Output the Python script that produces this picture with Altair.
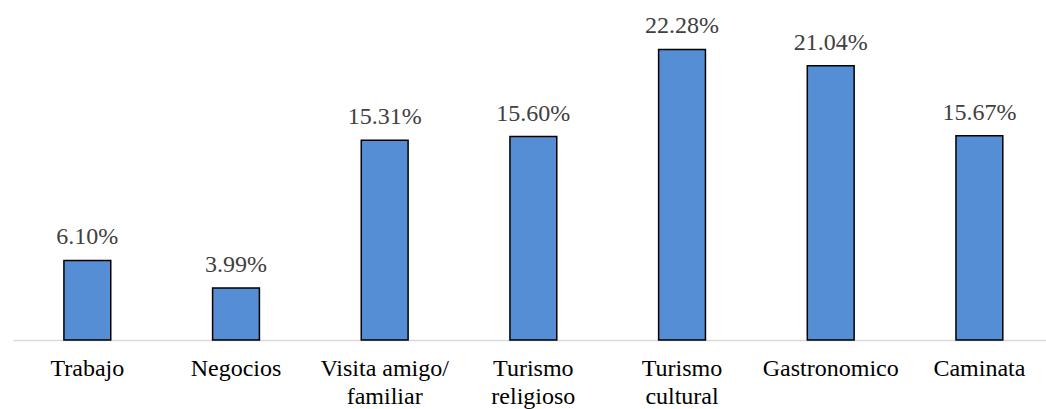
import altair as alt
import pandas as pd

categories = ["Trabajo", "Negocios", "Visita amigo/\nfamiliar", "Turismo\nreligioso",
              "Turismo\ncultural", "Gastronomico", "Caminata"]
values = [6.10, 3.99, 15.31, 15.60, 22.28, 21.04, 15.67]

df = pd.DataFrame({"cat": categories, "val": values})

FONT = "Times New Roman, Liberation Serif, DejaVu Serif, serif"
W = 1033
x = alt.X("cat:N", sort=categories, title=None,
          scale=alt.Scale(paddingInner=0.685, paddingOuter=0.3165, align=0.541),
          axis=alt.Axis(labelExpr="split(datum.label, '\\n')", labelAngle=0,
                        labelFont=FONT, labelFontSize=24, labelColor="#000000",
                        labelPadding=16, labelLineHeight=28, ticks=False,
                        domainColor="#d9d9d9", domainWidth=1.5, labelBaseline="top"))
y = alt.Y("val:Q", scale=alt.Scale(domain=[0, 25], nice=False), axis=None)

bars = alt.Chart(df).mark_bar(color="#558ED5", stroke="#000000", strokeWidth=1.5).encode(x=x, y=y)
text = alt.Chart(df).transform_calculate(
    lbl="format(datum.val, '.2f') + '%'"
).mark_text(font=FONT, fontSize=24, color="#404040", dy=-16,
            baseline="alphabetic").encode(x=x, y=y, text="lbl:N")

chart = (bars + text).properties(
    width=W, height=326,
    padding={"left": 13, "top": 14, "right": 0, "bottom": 69},
    autosize=alt.AutoSizeParams(type="none")
).configure_view(stroke=None)

chart.save("out.html", embed_options={"renderer": "svg", "actions": False})
